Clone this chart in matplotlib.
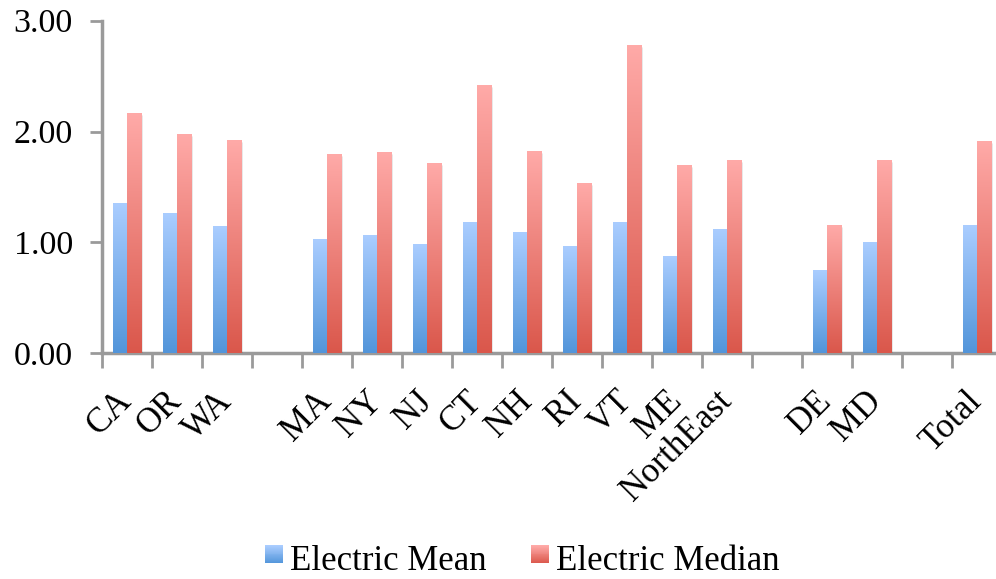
import numpy as np
import matplotlib
matplotlib.use("Agg")
import matplotlib.pyplot as plt
from matplotlib.patches import Rectangle
from matplotlib.legend_handler import HandlerBase
from matplotlib.colors import LinearSegmentedColormap
from matplotlib.transforms import ScaledTranslation

categories = ["CA", "OR", "WA", "", "MA", "NY", "NJ", "CT", "NH", "RI", "VT",
              "ME", "NorthEast", "", "DE", "MD", "", "Total"]
electric_mean = [1.35, 1.26, 1.14, np.nan, 1.02, 1.06, 0.98, 1.18, 1.09, 0.96,
                 1.18, 0.87, 1.11, np.nan, 0.74, 1.00, np.nan, 1.15]
electric_median = [2.16, 1.97, 1.92, np.nan, 1.79, 1.81, 1.71, 2.41, 1.82, 1.53,
                   2.77, 1.69, 1.74, np.nan, 1.15, 1.74, np.nan, 1.91]
series_names = ["Electric Mean", "Electric Median"]
yticks = [0, 1, 2, 3]

blue_top, blue_bot = "#aacdff", "#5295da"
red_top, red_bot = "#ffaaa8", "#da574b"

plt.rcParams["font.family"] = ["Liberation Serif", "DejaVu Serif"]

W, H = 996, 579
fig = plt.figure(figsize=(W / 100, H / 100), dpi=100)
ax = fig.add_axes([102 / W, (H - 353.3) / H, 900 / W, (353.3 - 20.7) / H])

n = len(categories)
x = np.arange(n)
bw = 0.29

def grad_bars(xs, vals, ctop, cbot, z):
    cmap = LinearSegmentedColormap.from_list("g", [cbot, ctop])
    grad = np.linspace(0, 1, 256).reshape(-1, 1)
    bars = ax.bar(xs, np.nan_to_num(vals), width=bw, align="edge",
                  facecolor="none", edgecolor="none", zorder=z)
    for b, v in zip(bars, vals):
        if np.isnan(v):
            continue
        x0, y0 = b.get_x(), b.get_y()
        w, h = b.get_width(), b.get_height()
        # soft shadow
        for k, a in enumerate([0.06, 0.05, 0.04]):
            dx = 0.012 * (k + 1)
            ax.add_patch(Rectangle((x0 + dx, y0), w, h - 0.01 * k,
                                   facecolor="black", alpha=a,
                                   edgecolor="none", zorder=z - 1))
        ax.imshow(grad, cmap=cmap, origin="lower", aspect="auto",
                  extent=(x0, x0 + w, y0, y0 + h), zorder=z,
                  interpolation="bilinear")
    return bars

grad_bars(x + 0.5 - bw, electric_mean, blue_top, blue_bot, 3)
grad_bars(x + 0.5, electric_median, red_top, red_bot, 4)

ax.set_xlim(0, n)
ax.set_ylim(0, 3)
ax.set_yticks(yticks)
ax.set_yticklabels([f"{v:.2f}" for v in yticks], fontsize=24.5)
ax.set_xticks(np.arange(n + 1))
ax.set_xticklabels([])
ax.set_xticks(x + 0.5, minor=True)
labs = ax.set_xticklabels(categories, minor=True, rotation=45, ha="right",
                          va="center", rotation_mode="anchor", fontsize=25)
shift = ScaledTranslation(6 / 72, 0, fig.dpi_scale_trans)
for t in labs:
    t.set_transform(t.get_transform() + shift)
ax.tick_params(axis="x", which="minor", length=0, pad=31)
ax.tick_params(axis="x", which="major", length=11, width=2, color="#9a9a9a",
               direction="out")
ax.tick_params(axis="y", length=9, width=2, color="#9a9a9a", direction="out",
               pad=12)
for s in ["top", "right"]:
    ax.spines[s].set_visible(False)
for s in ["left", "bottom"]:
    ax.spines[s].set_color("#9a9a9a")
    ax.spines[s].set_linewidth(2.5)
ax.set_facecolor("none")


class GradHandler(HandlerBase):
    def __init__(self, ctop, cbot):
        super().__init__()
        self.ctop, self.cbot = ctop, cbot

    def create_artists(self, legend, orig_handle, xdescent, ydescent, width,
                       height, fontsize, trans):
        cmap = LinearSegmentedColormap.from_list("g", [self.cbot, self.ctop])
        side = width
        x0 = -xdescent
        y0 = -ydescent + (height - side) / 2 + 0.12 * height
        arts = []
        nseg = 20
        for i in range(nseg):
            r = Rectangle((x0, y0 + side * i / nseg), side, side / nseg + 0.3,
                          facecolor=cmap(i / (nseg - 1)), edgecolor="none",
                          transform=trans)
            arts.append(r)
        return arts


h1 = Rectangle((0, 0), 1, 1)
h2 = Rectangle((0, 0), 1, 1)
leg = fig.legend([h1, h2], series_names, loc="center",
                 bbox_to_anchor=(522 / W, 1 - 561 / H), ncol=2, frameon=False,
                 fontsize=25, handlelength=0.52, handletextpad=0.2,
                 columnspacing=1.27, borderpad=0, borderaxespad=0,
                 handler_map={h1: GradHandler(blue_top, blue_bot),
                              h2: GradHandler(red_top, red_bot)})

fig.savefig("out.png", dpi=100)
